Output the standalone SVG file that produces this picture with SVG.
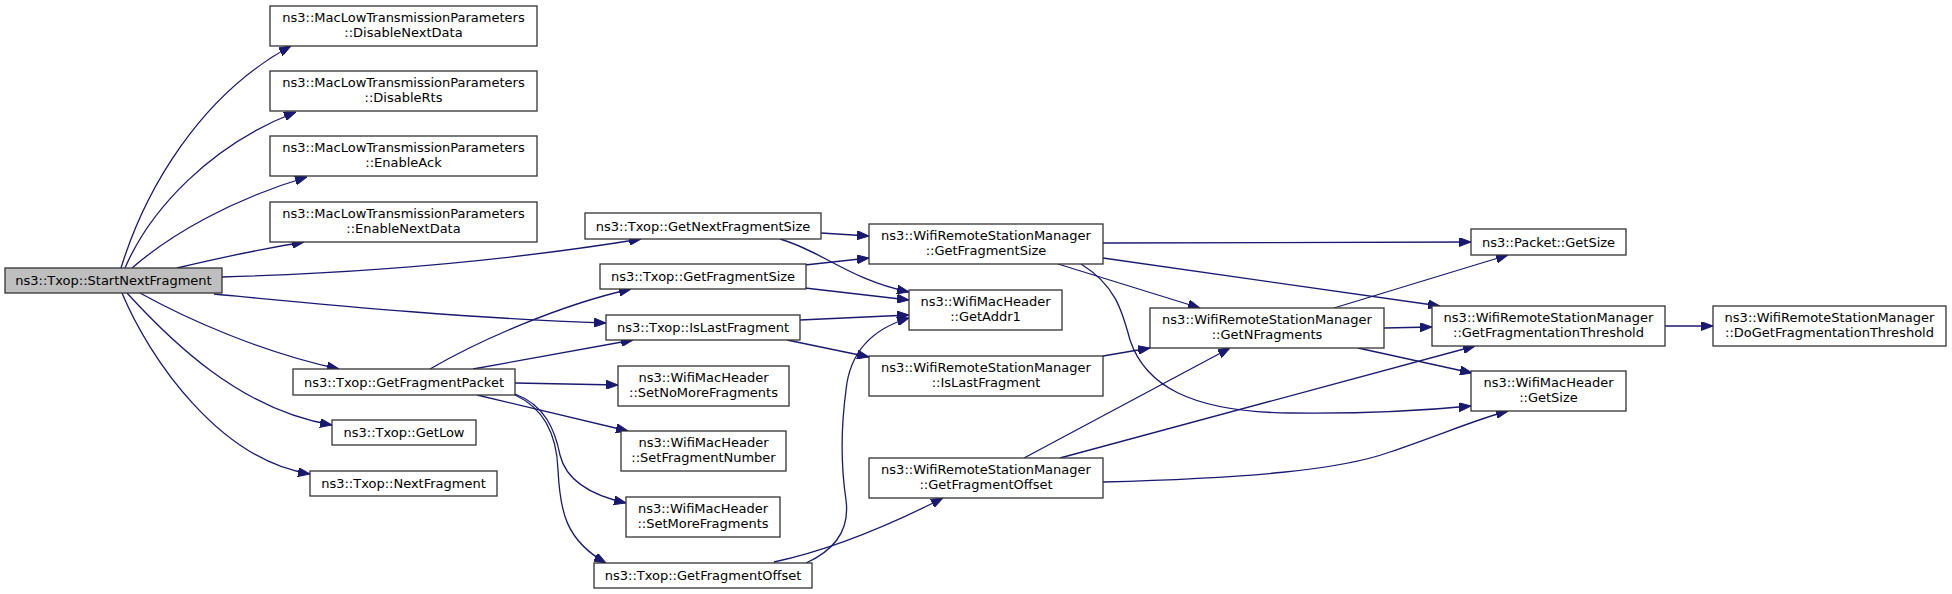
<svg xmlns="http://www.w3.org/2000/svg" width="1952" height="594" viewBox="0 0 1952 594">
<style>
.n rect{fill:#fff;stroke:#333;stroke-width:1.3}
.root rect{fill:#bfbfbf}
.n text{font-family:"DejaVu Sans",sans-serif;font-size:13px;fill:#000;text-anchor:middle}
.e path{fill:none;stroke:#191970;stroke-width:1.3;marker-end:url(#a)}
</style>
<defs>
<marker id="a" markerUnits="userSpaceOnUse" viewBox="0 0 12 9" markerWidth="12" markerHeight="9" refX="12" refY="4.5" orient="auto">
<path d="M0,0 L12,4.5 L0,9 z" fill="#191970" stroke="#191970"/>
</marker>
</defs>
<g id="edges" class="e">
<path d="M121,268 C145,190 200,95 291,46"/>
<path d="M125,268 C150,210 210,145 296,112"/>
<path d="M132,268 C170,235 230,200 307,177"/>
<path d="M177,268 C215,259 255,250 304,242"/>
<path d="M222,277 C360,273 500,262 641,239"/>
<path d="M214,294 C330,305 460,318 606,323"/>
<path d="M140,293 C185,318 260,352 339,369"/>
<path d="M127,293 C170,340 240,410 332,425"/>
<path d="M122,293 C150,360 220,460 310,474"/>
<path d="M821,233 L869,236"/>
<path d="M780,239 C820,250 850,280 909,292"/>
<path d="M805,265 L869,258"/>
<path d="M805,288 L909,300"/>
<path d="M800,320 L909,315"/>
<path d="M787,340 L869,357"/>
<path d="M430,369 C480,340 560,305 631,289"/>
<path d="M473,369 L633,340"/>
<path d="M515,383 L618,385"/>
<path d="M477,395 L628,431"/>
<path d="M515,394 C545,405 555,430 560,455 C566,480 590,495 626,503"/>
<path d="M515,395 C548,410 557,440 558,470 C560,510 565,540 606,563"/>
<path d="M806,563 C835,550 850,530 846,500 C840,460 842,420 846,390 C850,350 875,328 909,318"/>
<path d="M774,562 C830,550 890,525 943,498"/>
<path d="M1103,243 L1471,242"/>
<path d="M1103,258 L1440,306"/>
<path d="M1058,264 L1200,308"/>
<path d="M1081,264 C1115,285 1122,310 1130,340 C1145,385 1190,412 1290,413 C1380,414 1430,410 1471,406"/>
<path d="M1103,356 L1150,348"/>
<path d="M1334,308 L1508,255"/>
<path d="M1384,328 L1432,327"/>
<path d="M1358,348 L1472,373"/>
<path d="M1665,326 L1713,326"/>
<path d="M1024,458 L1230,348"/>
<path d="M1060,458 L1475,346"/>
<path d="M1103,482 C1250,478 1340,470 1390,452 C1440,435 1480,418 1508,411"/>
</g>
<g id="n0" class="n root"><rect x="5" y="268" width="217" height="25"/><text x="113.5" y="285">ns3::Txop::StartNextFragment</text></g>
<g id="n1" class="n"><rect x="270" y="6" width="267" height="40"/><text x="403.5" y="22">ns3::MacLowTransmissionParameters</text><text x="403.5" y="37">::DisableNextData</text></g>
<g id="n2" class="n"><rect x="270" y="71" width="267" height="40"/><text x="403.5" y="87">ns3::MacLowTransmissionParameters</text><text x="403.5" y="102">::DisableRts</text></g>
<g id="n3" class="n"><rect x="270" y="136" width="267" height="40"/><text x="403.5" y="152">ns3::MacLowTransmissionParameters</text><text x="403.5" y="167">::EnableAck</text></g>
<g id="n4" class="n"><rect x="270" y="202" width="267" height="40"/><text x="403.5" y="218">ns3::MacLowTransmissionParameters</text><text x="403.5" y="233">::EnableNextData</text></g>
<g id="n5" class="n"><rect x="585" y="213" width="236" height="26"/><text x="703" y="231">ns3::Txop::GetNextFragmentSize</text></g>
<g id="n6" class="n"><rect x="600" y="264" width="206" height="25"/><text x="703" y="281">ns3::Txop::GetFragmentSize</text></g>
<g id="n7" class="n"><rect x="606" y="315" width="194" height="25"/><text x="703" y="332">ns3::Txop::IsLastFragment</text></g>
<g id="n8" class="n"><rect x="293" y="369" width="222" height="26"/><text x="404" y="387">ns3::Txop::GetFragmentPacket</text></g>
<g id="n9" class="n"><rect x="332" y="420" width="144" height="25"/><text x="404" y="437">ns3::Txop::GetLow</text></g>
<g id="n10" class="n"><rect x="310" y="471" width="187" height="25"/><text x="403.5" y="488">ns3::Txop::NextFragment</text></g>
<g id="n11" class="n"><rect x="618" y="366" width="171" height="40"/><text x="703.5" y="382">ns3::WifiMacHeader</text><text x="703.5" y="397">::SetNoMoreFragments</text></g>
<g id="n12" class="n"><rect x="621" y="431" width="165" height="40"/><text x="703.5" y="447">ns3::WifiMacHeader</text><text x="703.5" y="462">::SetFragmentNumber</text></g>
<g id="n13" class="n"><rect x="626" y="497" width="154" height="40"/><text x="703" y="513">ns3::WifiMacHeader</text><text x="703" y="528">::SetMoreFragments</text></g>
<g id="n14" class="n"><rect x="594" y="563" width="218" height="25"/><text x="703" y="580">ns3::Txop::GetFragmentOffset</text></g>
<g id="n15" class="n"><rect x="869" y="224" width="234" height="40"/><text x="986" y="240">ns3::WifiRemoteStationManager</text><text x="986" y="255">::GetFragmentSize</text></g>
<g id="n16" class="n"><rect x="909" y="290" width="153" height="40"/><text x="985.5" y="306">ns3::WifiMacHeader</text><text x="985.5" y="321">::GetAddr1</text></g>
<g id="n17" class="n"><rect x="869" y="356" width="234" height="40"/><text x="986" y="372">ns3::WifiRemoteStationManager</text><text x="986" y="387">::IsLastFragment</text></g>
<g id="n18" class="n"><rect x="869" y="458" width="234" height="40"/><text x="986" y="474">ns3::WifiRemoteStationManager</text><text x="986" y="489">::GetFragmentOffset</text></g>
<g id="n19" class="n"><rect x="1150" y="308" width="234" height="40"/><text x="1267" y="324">ns3::WifiRemoteStationManager</text><text x="1267" y="339">::GetNFragments</text></g>
<g id="n20" class="n"><rect x="1471" y="229" width="155" height="26"/><text x="1548.5" y="247">ns3::Packet::GetSize</text></g>
<g id="n21" class="n"><rect x="1432" y="306" width="233" height="40"/><text x="1548.5" y="322">ns3::WifiRemoteStationManager</text><text x="1548.5" y="337">::GetFragmentationThreshold</text></g>
<g id="n22" class="n"><rect x="1713" y="306" width="233" height="40"/><text x="1829.5" y="322">ns3::WifiRemoteStationManager</text><text x="1829.5" y="337">::DoGetFragmentationThreshold</text></g>
<g id="n23" class="n"><rect x="1471" y="371" width="155" height="40"/><text x="1548.5" y="387">ns3::WifiMacHeader</text><text x="1548.5" y="402">::GetSize</text></g>
</svg>
